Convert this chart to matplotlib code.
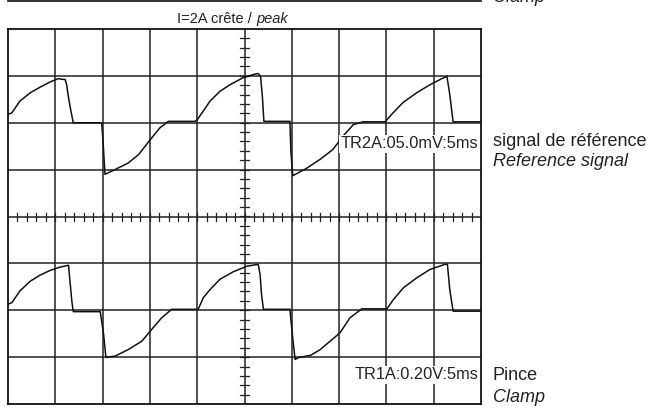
import matplotlib
matplotlib.use('Agg')
import matplotlib.pyplot as plt
import numpy as np

plt.rcParams.update({
    'font.family': ['Liberation Sans', 'DejaVu Sans'],
    'font.size': 10.5,
})

# ── Data (screen divisions: x 0..10, y -4..4) ─────────────────────
# Reference signal (upper trace)
ref_x = [0.00, 0.08, 0.25, 0.47, 0.68, 0.89, 1.06, 1.21, 1.24, 1.28, 1.33, 1.38,
         1.98, 2.01, 2.05, 2.26, 2.54, 2.76, 3.04, 3.21, 3.39,
         3.95, 3.99, 4.13, 4.27, 4.48, 4.69, 4.97, 5.19, 5.29, 5.34, 5.38, 5.41,
         5.96, 5.98, 6.02, 6.30, 6.60, 6.87, 7.08, 7.30, 7.50,
         7.97, 8.14, 8.35, 8.64, 8.92, 9.17, 9.28, 9.34, 9.41, 10.00]
ref_y = [2.18, 2.21, 2.46, 2.64, 2.76, 2.87, 2.94, 2.92, 2.81, 2.53, 2.25, 2.00,
         2.00, 1.60, 0.90, 1.00, 1.14, 1.32, 1.68, 1.89, 2.03,
         2.03, 2.05, 2.25, 2.46, 2.67, 2.81, 2.96, 3.03, 3.05, 2.99, 2.53, 2.03,
         2.03, 1.40, 0.87, 1.02, 1.22, 1.43, 1.71, 1.96, 2.02,
         2.02, 2.21, 2.43, 2.64, 2.81, 2.94, 2.99, 2.60, 2.02, 2.02]

# Clamp signal (lower trace)
clamp_x = [0.00, 0.08, 0.25, 0.47, 0.68, 0.89, 1.10, 1.28, 1.31, 1.35, 1.38,
           1.95, 2.02, 2.07, 2.09, 2.26, 2.54, 2.83, 3.07, 3.25, 3.46,
           4.02, 4.13, 4.27, 4.48, 4.76, 5.05, 5.29, 5.33, 5.36, 5.40,
           5.96, 6.02, 6.07, 6.14, 6.40, 6.60, 6.81, 7.02, 7.23, 7.48,
           8.01, 8.15, 8.36, 8.64, 8.92, 9.24, 9.29, 9.34, 9.41, 10.00]
clamp_y = [-1.87, -1.84, -1.59, -1.38, -1.25, -1.15, -1.08, -1.04, -1.38, -1.81, -2.03,
           -2.03, -2.50, -3.01, -3.00, -2.98, -2.84, -2.66, -2.37, -2.16, -1.98,
           -1.98, -1.73, -1.56, -1.34, -1.18, -1.06, -1.02, -1.24, -1.66, -1.98,
           -1.98, -2.60, -3.05, -3.01, -2.96, -2.84, -2.66, -2.48, -2.16, -1.97,
           -1.97, -1.77, -1.52, -1.31, -1.13, -1.02, -1.02, -1.56, -2.02, -2.02]

TITLE = 'I=2A crête / '
TITLE_IT = 'peak'
REF_SCALE = 'TR2A:05.0mV:5ms'
CLAMP_SCALE = 'TR1A:0.20V:5ms'
REF_LABEL = ('signal de référence', 'Reference signal')
CLAMP_LABEL = ('Pince', 'Clamp')

# ── Figure & axes ────────────────────────────────────────────────
W, H = 655, 409
fig = plt.figure(figsize=(W / 100, H / 100), dpi=100)
fig.patch.set_facecolor('white')
ax = fig.add_axes([8 / W, 5 / H, 473 / W, 375 / H])
ax.set_xlim(0, 10)
ax.set_ylim(-4, 4)
ax.set_xticks([])
ax.set_yticks([])
for s in ax.spines.values():
    s.set_linewidth(1.3)
    s.set_color('#111111')

GRID = '#222222'
for gx in range(1, 10):
    ax.axvline(gx, color=GRID, lw=1.1, zorder=1)
for gy in range(-3, 4):
    ax.axhline(gy, color=GRID, lw=1.1, zorder=1)

# minor ticks on the centre cross
for t in np.arange(0.2, 10, 0.2):
    ax.plot([t, t], [-0.09, 0.08], color=GRID, lw=0.9, zorder=1)
for t in np.arange(-3.8, 4, 0.2):
    ax.plot([4.91, 5.09], [t, t], color=GRID, lw=0.9, zorder=1)

# ── Traces ───────────────────────────────────────────────────────
ax.plot(ref_x, ref_y, color='#111111', lw=1.1, zorder=3,
        solid_joinstyle='round')
ax.plot(clamp_x, clamp_y, color='#111111', lw=1.1, zorder=3,
        solid_joinstyle='round')

# ── Scale boxes inside the screen ────────────────────────────────
box = dict(boxstyle='square,pad=0.1', facecolor='white', edgecolor='none')
ax.text(9.94, 1.55, REF_SCALE, ha='right', va='center', fontsize=11.8,
        color='#222222', bbox=box, zorder=5)
ax.text(9.94, -3.38, CLAMP_SCALE, ha='right', va='center', fontsize=11.8,
        color='#222222', bbox=box, zorder=5)

# ── Labels right of the screen ───────────────────────────────────
LAB = 13
fig.text(493 / W, 1 - 142 / H, REF_LABEL[0], ha='left', va='center',
         fontsize=LAB, color='#222222')
fig.text(493 / W, 1 - 162 / H, REF_LABEL[1], ha='left', va='center',
         fontsize=LAB, style='italic', color='#222222')
fig.text(493 / W, 1 - 375 / H, CLAMP_LABEL[0], ha='left', va='center',
         fontsize=LAB, color='#222222')
fig.text(493 / W, 1 - 397 / H, CLAMP_LABEL[1], ha='left', va='center',
         fontsize=LAB, style='italic', color='#222222')

# ── Title ────────────────────────────────────────────────────────
t1 = fig.text(177 / W, 1 - 19 / H, TITLE, ha='left', va='center',
              fontsize=10.5, color='#222222')
fig.canvas.draw()
ax.annotate(TITLE_IT, xy=(1, 0), xycoords=t1, ha='left', va='bottom',
            fontsize=10.5, style='italic', color='#222222',
            annotation_clip=False)

# ── Remnant of the previous screen at the very top ───────────────
fig.add_artist(plt.Line2D([8 / W, 481 / W], [1 - 1.2 / H, 1 - 1.2 / H],
                          color='#222222', lw=1.3, transform=fig.transFigure))
fig.text(493 / W, 1 + 3 / H, CLAMP_LABEL[1], ha='left', va='center',
         fontsize=LAB, style='italic', color='#222222')

fig.savefig('out.png', dpi=100, facecolor='white')
